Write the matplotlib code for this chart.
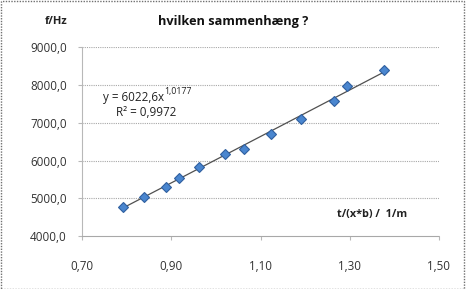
import numpy as np
import matplotlib
matplotlib.use("Agg")
import matplotlib.pyplot as plt
from matplotlib.ticker import FixedLocator, FuncFormatter
from matplotlib.patches import Rectangle

# data
x_vals = [0.791, 0.838, 0.888, 0.918, 0.963, 1.021, 1.063, 1.124, 1.190, 1.264, 1.294, 1.376]
f_vals = [4766, 5046, 5294, 5532, 5830, 6182, 6314, 6710, 7111, 7579, 7970, 8392]
fit_a = 6022.6
fit_b = 1.0177
x_ticks = [0.70, 0.90, 1.10, 1.30, 1.50]
y_ticks = [4000, 5000, 6000, 7000, 8000, 9000]

plt.rcParams['font.family'] = ['Open Sans', 'DejaVu Sans']

W, H = 466, 289
fig = plt.figure(figsize=(W / 100, H / 100), dpi=100)
ax = fig.add_axes([82 / W, 1 - 236.3 / H, (439 - 82) / W, (236.3 - 47) / H])

ax.set_xlim(0.70, 1.50)
ax.set_ylim(4000, 9000)
ax.xaxis.set_major_locator(FixedLocator(x_ticks))
ax.yaxis.set_major_locator(FixedLocator(y_ticks))
ax.xaxis.set_major_formatter(FuncFormatter(lambda v, p: f"{v:.2f}".replace('.', ',')))
ax.yaxis.set_major_formatter(FuncFormatter(lambda v, p: f"{v:.1f}".replace('.', ',')))

for yv in y_ticks[1:]:
    ax.axhline(yv, color='#a8a8a8', lw=0.8, ls=(0, (1, 1)), zorder=1)

for s in ['top', 'right']:
    ax.spines[s].set_visible(False)
ax.spines['left'].set_color('#b8b8b8')
ax.spines['left'].set_linestyle((0, (1, 1)))
ax.spines['left'].set_linewidth(0.8)
ax.spines['bottom'].set_color('#a8a8a8')
ax.spines['bottom'].set_linestyle((0, (1, 1)))
ax.spines['bottom'].set_linewidth(0.8)
ax.tick_params(axis='both', colors='#b8b8b8', length=3, width=0.8, labelcolor='#333333', labelsize=8.4)
ax.tick_params(axis='x', pad=14)
ax.tick_params(axis='y', pad=8)

xs = np.linspace(min(x_vals), max(x_vals), 100)
ax.plot(xs, fit_a * xs ** fit_b, color='#505050', lw=0.9, zorder=3)
ax.plot(x_vals, f_vals, ls='none', marker='D', markersize=5.4,
        markerfacecolor='#4a86cf', markeredgecolor='#2f5f9f', markeredgewidth=0.8, zorder=4)

fig.text(56 / W, 1 - 22 / H, 'f/Hz', fontsize=8, fontweight='bold', ha='center', va='center', color='#222222')
fig.text(233 / W, 1 - 22 / H, 'hvilken sammenhæng ?', fontsize=9.2, fontweight='bold', ha='center', va='center', color='#111111')
fig.text(372 / W, 1 - 214 / H, 't/(x*b) /  1/m', fontsize=7.8, fontweight='bold', ha='center', va='center', color='#222222')
t1 = fig.text(103 / W, 1 - 97 / H, 'y = 6022,6x', fontsize=8.4, ha='left', va='center', color='#222222')
fig.text(116 / W, 1 - 113 / H, 'R² = 0,9972', fontsize=8.4, ha='left', va='center', color='#222222')

fig.canvas.draw()
bb = t1.get_window_extent()
fig.text((bb.x1 + 0.5) / W, (bb.y1 - 5.5) / H, '1,0177', fontsize=6.3, ha='left', va='bottom', color='#222222')

fig.patches.append(Rectangle((0.5 / W, 0.5 / H), (W - 3) / W, (H - 1.5) / H, transform=fig.transFigure,
                             fill=False, edgecolor='#707070', lw=1, ls=(0, (1, 1))))

fig.savefig('out.png', dpi=100)
